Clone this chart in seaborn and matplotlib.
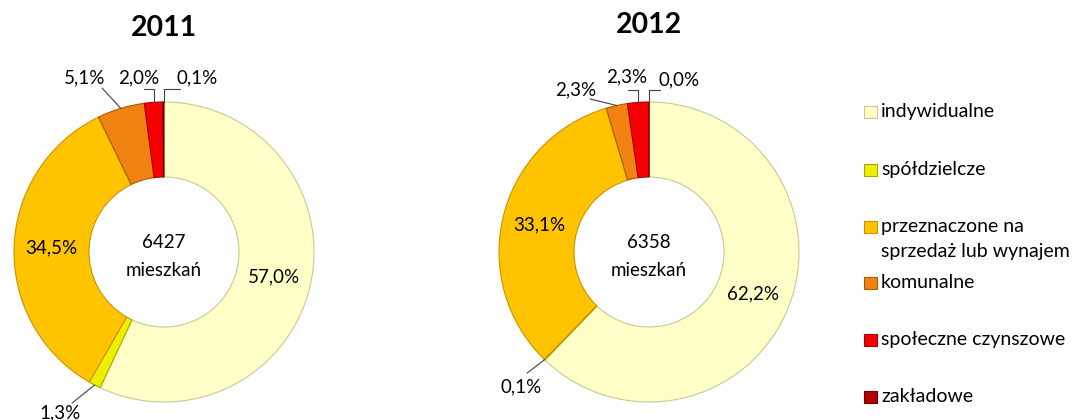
import numpy as np
import matplotlib
matplotlib.use("Agg")
import matplotlib.pyplot as plt
import seaborn as sns
from matplotlib.patches import Rectangle

# ---------------- data ----------------
categories = ["indywidualne", "spółdzielcze", "przeznaczone na\nsprzedaż lub wynajem",
              "komunalne", "społeczne czynszowe", "zakładowe"]
years = ["2011", "2012"]
shares_2011 = [57.0, 1.3, 34.5, 5.1, 2.0, 0.1]
shares_2012 = [62.2, 0.1, 33.1, 2.3, 2.3, 0.0]
totals = [6427, 6358]
center_unit = "mieszkań"

# ---------------- style ----------------
sns.set_theme(style="white")
plt.rcParams['font.family'] = ['Lato', 'DejaVu Sans']
colors = sns.color_palette(["#FFFFC8", "#EEEE00", "#FFC300", "#F08212", "#F40000", "#B00000"])
edge_colors = ["#C8C890", "#A8A800", "#C89400", "#B05A00", "#B00000", "#700000"]

W, H = 1075, 420
fig = plt.figure(figsize=(W / 100, H / 100), dpi=100)

R_PX = 150
centers_px = [(164, 252), (649, 252)]
axes_px = [(0, 340), (480, 820)]
title_y_px = [28, 25]

# small-label layout per year: index -> (text pos, leader kind, leader anchor) in radius units
small_layout = [
    {1: ((-0.69, -1.07), 'diag', (-0.613, -1.007)),
     3: ((-0.53, 1.16), 'diag', (-0.413, 1.093)),
     4: ((-0.17, 1.16), 'elbow', (-0.133, 1.087)),
     5: ((0.22, 1.16), 'elbow', (0.107, 1.087))},
    {1: ((-0.85, -0.90), 'diag', (-0.813, -0.807)),
     3: ((-0.49, 1.08), 'diag', (-0.393, 1.02)),
     4: ((-0.15, 1.17), 'elbow', (-0.14, 1.08)),
     5: ((0.20, 1.15), 'elbow', (0.073, 1.08))},
]


def fmt(v):
    return f"{v:.1f}%".replace(".", ",")


for k, (year, shares, total) in enumerate(zip(years, [shares_2011, shares_2012], totals)):
    cx, cy = centers_px[k]
    x0, x1 = axes_px[k]
    ax = fig.add_axes([x0 / W, 0, (x1 - x0) / W, 1])
    wedges, _ = ax.pie(shares, colors=colors, startangle=90, counterclock=False,
                       radius=1.0,
                       wedgeprops=dict(width=0.5, linewidth=0.8))
    for w, ec in zip(wedges, edge_colors):
        w.set_edgecolor(ec)
    ax.set_xlim((x0 - cx) / R_PX, (x1 - cx) / R_PX)
    ax.set_ylim((cy - H) / R_PX, cy / R_PX)
    ax.set_aspect('auto')
    ax.axis('off')

    # title
    ax.text(0, (cy - title_y_px[k]) / R_PX, year, ha='center', va='center',
            fontsize=20.5, fontweight='bold', color='black')
    # center text
    ax.text(0, -0.03, f"{total}\n{center_unit}", ha='center', va='center',
            fontsize=13.5, linespacing=1.75, color='black')

    for i, (w, v) in enumerate(zip(wedges, shares)):
        mid = np.deg2rad((w.theta1 + w.theta2) / 2)
        if i in small_layout[k]:
            (tx, ty), kind, (ax_, ay_) = small_layout[k][i]
            px, py = np.cos(mid), np.sin(mid)
            if kind == 'diag':
                ax.plot([ax_, px], [ay_, py], color='#404040', lw=0.8)
            else:
                ax.plot([ax_, px, px], [ay_, ay_, py], color='#404040', lw=0.8)
            ax.text(tx, ty, fmt(v), ha='center', va='center', fontsize=13.5, color='black')
        else:
            r = 0.75
            ax.text(r * np.cos(mid), r * np.sin(mid), fmt(v), ha='center', va='center',
                    fontsize=13.5, color='black')

# ---------------- legend ----------------
leg_y_px = [112, 170, 227, 283, 340, 397]
for cat, col, ec, y in zip(categories, colors, edge_colors, leg_y_px):
    fig.patches.append(Rectangle(((864) / W, 1 - (y + 6) / H), 13 / W, 12 / H,
                                 facecolor=col, edgecolor=ec, lw=0.8,
                                 transform=fig.transFigure, figure=fig))
    fig.text(881 / W, 1 - (y - 9) / H, cat, ha='left', va='top', fontsize=14,
             linespacing=1.6, color='black')

fig.savefig("out.png", dpi=100)
